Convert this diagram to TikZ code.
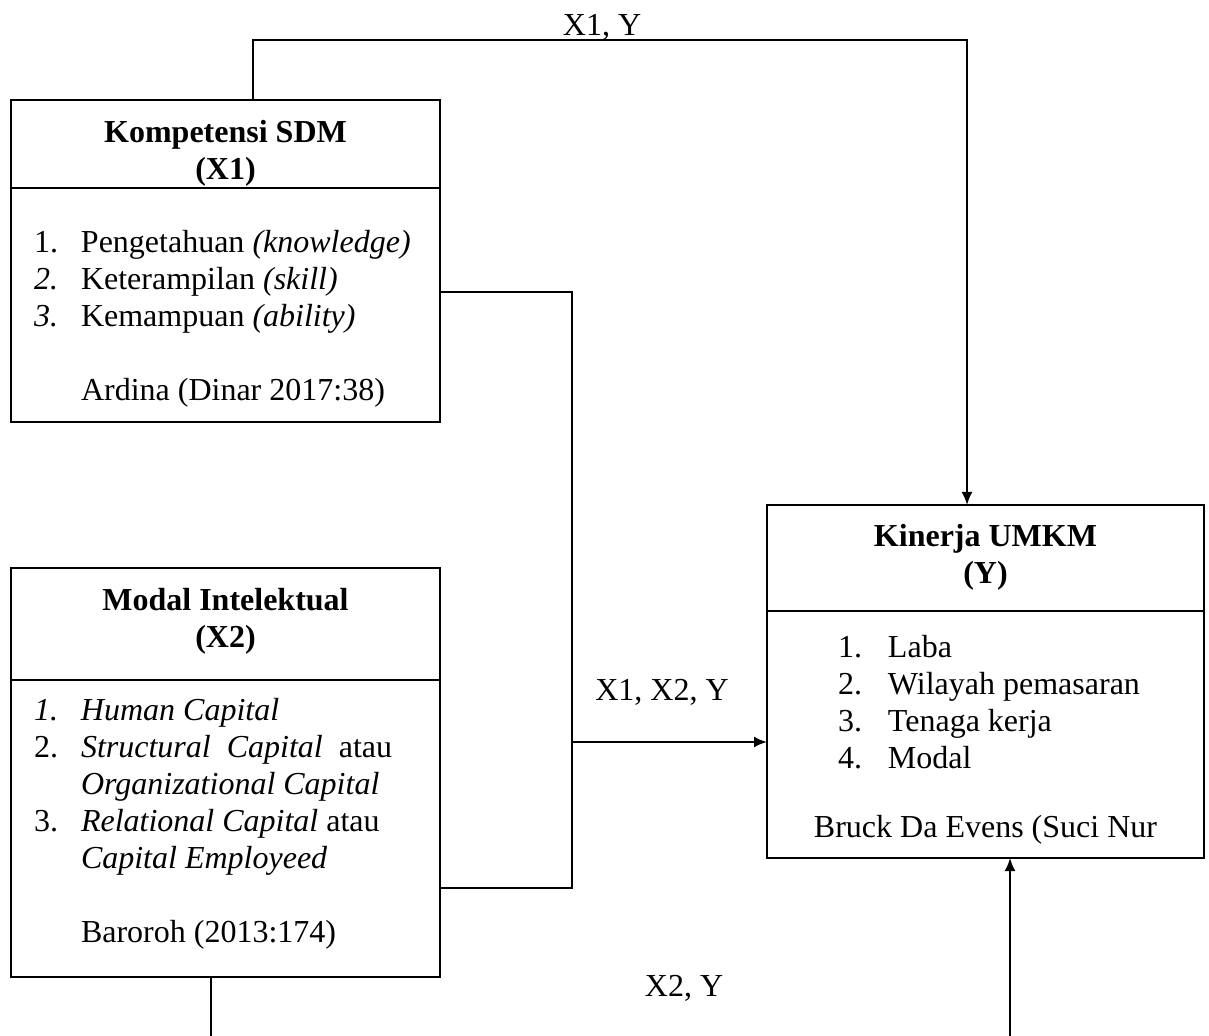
\documentclass[tikz,border=0pt]{standalone}
\usepackage{fontspec}
\setmainfont{Liberation Serif}
\usetikzlibrary{arrows.meta}

\begin{document}
\begin{tikzpicture}[x=0.5pt,y=-0.5pt,line width=1pt,font=\fontsize{16}{18.5}\selectfont]
    \tikzset{box/.style = {shape=rectangle,draw,inner sep=0pt,outer sep=0pt,minimum width=214.5pt}}
    \tikzset{title/.style = {align=center,font=\fontsize{16}{18.5}\selectfont\bfseries}}
    \tikzset{list/.style = {anchor=base west,inner sep=0pt}}
    \tikzset{edge/.style = {->,> = {Latex[length=6.5pt,width=5.5pt]}}}
    \useasboundingbox (0,0) rectangle (1209,1036);
    % boxes
    \node[box,minimum height=44pt] (x1head) at (225.5,144) {};
    \node[box,minimum height=117pt] (x1body) at (225.5,305) {};
    \node[box,minimum height=56pt] (x2head) at (225.5,624) {};
    \node[box,minimum height=148.5pt] (x2body) at (225.5,828.5) {};
    \node[box,minimum width=218.5pt,minimum height=53pt] (yhead) at (985.5,558) {};
    \node[box,minimum width=218.5pt,minimum height=123.5pt] (ybody) at (985.5,734.5) {};
    % texts
    \node[title] (x1title) at (225.5,153) {Kompetensi SDM\\(X1)};
    \node[title] (x2title) at (225.5,621) {Modal Intelektual\\(X2)};
    \node[title] (ytitle) at (985.5,557) {Kinerja UMKM\\(Y)};
    \node[list] (x1list) at (33,253) {\begin{tabular}[t]{@{}p{23.5pt}@{}l@{}}
        1. & Pengetahuan \textit{(knowledge)}\\
        \textit{2.} & Keterampilan \textit{(skill)}\\
        \textit{3.} & Kemampuan \textit{(ability)}\\
        & \\
        & Ardina (Dinar 2017:38)
    \end{tabular}};
    \node[list] (x2list) at (33,720) {\begin{tabular}[t]{@{}p{23.5pt}@{}l@{}}
        \textit{1.} & \textit{Human Capital}\\
        2. & \textit{Structural\hspace{0.5em}Capital}\hspace{0.5em}atau\\
        & \textit{Organizational Capital}\\
        3. & \textit{Relational Capital} atau\\
        & \textit{Capital Employeed}\\
        & \\
        & Baroroh (2013:174)
    \end{tabular}};
    \node[list] (ylist) at (837,657) {\begin{tabular}[t]{@{}p{25pt}@{}l@{}}
        1. & Laba\\
        2. & Wilayah pemasaran\\
        3. & Tenaga kerja\\
        4. & Modal
    \end{tabular}};
    \node (ysource) at (985.5,830) {Bruck Da Evens (Suci Nur};
    % labels
    \node (lblxy) at (602,27) {X1, Y};
    \node (lblxxy) at (662,692) {X1, X2, Y};
    \node (lblxxxy) at (684,988) {X2, Y};
    % connectors
    \coordinate (topL) at (253,40);
    \coordinate (topR) at (967,40);
    \coordinate (joinA) at (572,292);
    \coordinate (joinB) at (572,888);
    \coordinate (joinC) at (572,742);
    \coordinate (x2end) at (211,1036);
    \coordinate (yend) at (1010,1036);
    \draw[edge] (x1head.north -| topL) -- (topL) -- (topR) -- (yhead.north -| topR);
    \draw (x1body.east |- joinA) -- (joinA) -- (joinB) -- (x2body.east |- joinB);
    \draw[edge] (joinC) -- (ybody.west |- joinC);
    \draw (x2body.south -| x2end) -- (x2end);
    \draw[edge] (yend) -- (ybody.south -| yend);
\end{tikzpicture}
\end{document}
